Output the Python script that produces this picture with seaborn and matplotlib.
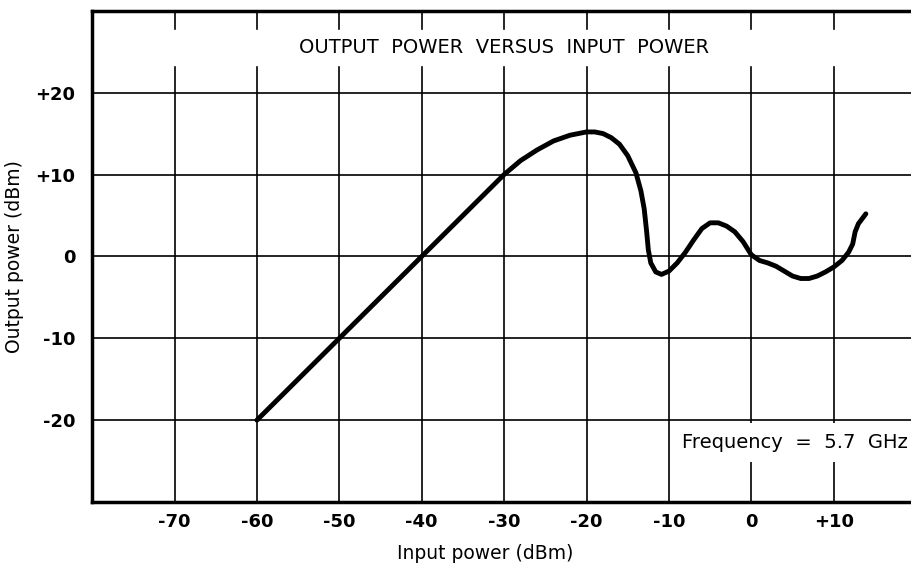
import pandas as pd
import matplotlib
matplotlib.use("Agg")
import matplotlib.pyplot as plt
import seaborn as sns

# Output power vs input power
input_dbm = [-60, -50, -40, -30, -28, -26, -24, -22, -20, -19, -18, -17, -16, -15,
             -14, -13.4, -13, -12.7, -12.5, -12.2, -11.6, -10.9, -10, -9, -8, -7,
             -6, -5, -4, -3, -2, -1, 0, 1, 2, 3, 4, 5, 6, 7, 8, 9, 10, 11,
             11.8, 12.3, 12.6, 13.0, 13.9]
output_dbm = [-20, -10, 0, 10, 11.7, 13.0, 14.1, 14.8, 15.2, 15.2, 15.0, 14.5, 13.7, 12.3,
              10.2, 8.0, 5.8, 3.0, 0.8, -0.8, -1.9, -2.2, -1.8, -0.8, 0.5, 2.0,
              3.4, 4.1, 4.1, 3.7, 3.0, 1.8, 0.2, -0.5, -0.8, -1.2, -1.8, -2.4, -2.7, -2.7, -2.4, -1.9, -1.3, -0.5,
              0.5, 1.5, 3.0, 4.0, 5.2]

x_ticks = [-70, -60, -50, -40, -30, -20, -10, 0, 10]
x_labels = ['-70', '-60', '-50', '-40', '-30', '-20', '-10', '0', '+10']
y_ticks = [-20, -10, 0, 10, 20]
y_labels = ['-20', '-10', '0', '+10', '+20']

df = pd.DataFrame({'input': input_dbm, 'output': output_dbm})

sns.set_style("white")
plt.rcParams['font.family'] = ['DejaVu Sans']
plt.rcParams['text.color'] = 'black'
plt.rcParams['axes.labelcolor'] = 'black'
plt.rcParams['xtick.color'] = 'black'
plt.rcParams['ytick.color'] = 'black'

fig = plt.figure(figsize=(9.12, 5.66), dpi=100)
ax = fig.add_axes([0.101, 0.113, 0.899, 0.868])

# grid lines every 10 dB
for xv in range(-70, 20, 10):
    ax.axvline(xv, color='black', lw=1.2, zorder=1)
for yv in range(-20, 30, 10):
    ax.axhline(yv, color='black', lw=1.2, zorder=1)

# white bands where the text sits
ax.axhspan(23.4, 27.7, color='white', zorder=2)
ax.fill_between([-9.3, 19.5], -25.1, -20.4, color='white', zorder=2, lw=0)

sns.lineplot(data=df, x='input', y='output', sort=False, color='black', lw=3.5,
             ax=ax, zorder=3)

ax.set_xlim(-80, 19.5)
ax.set_ylim(-30, 30)
ax.set_xticks(x_ticks)
ax.set_xticklabels(x_labels, fontsize=13, fontweight='bold')
ax.set_yticks(y_ticks)
ax.set_yticklabels(y_labels, fontsize=13, fontweight='bold')
ax.tick_params(length=0)
ax.tick_params(axis='x', pad=8)
ax.tick_params(axis='y', pad=12)

for side in ['left', 'bottom', 'top']:
    ax.spines[side].set_linewidth(2.5)
    ax.spines[side].set_color('black')
ax.spines['right'].set_visible(False)

ax.set_xlabel("Input power (dBm)", fontsize=13.5)
ax.xaxis.set_label_coords(0.479, -0.085)
ax.set_ylabel("Output power (dBm)", fontsize=13.5, labelpad=8)

ax.text(-30, 25.5, "OUTPUT  POWER  VERSUS  INPUT  POWER", fontsize=14,
        ha='center', va='center', zorder=4)
ax.text(-8.4, -22.7, "Frequency  =  5.7  GHz", fontsize=14,
        ha='left', va='center', zorder=4)

fig.savefig("out.png", dpi=100)
